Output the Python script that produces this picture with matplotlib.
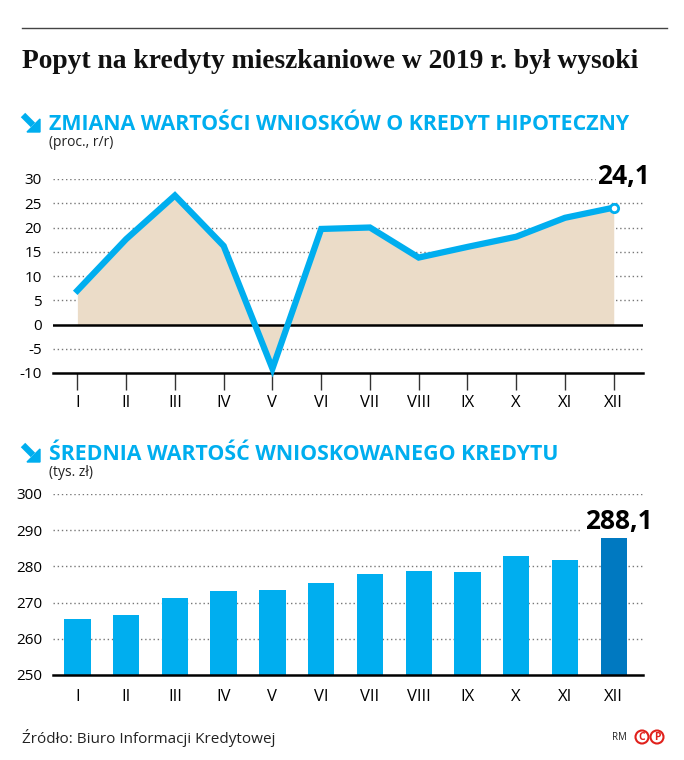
import matplotlib
matplotlib.use("Agg")
import matplotlib.pyplot as plt
from matplotlib.patches import Polygon, Circle
import numpy as np

plt.rcParams['font.family'] = ['Liberation Sans Narrow', 'Open Sans', 'DejaVu Sans']
plt.rcParams['axes.unicode_minus'] = False

months = ["I", "II", "III", "IV", "V", "VI", "VII", "VIII", "IX", "X", "XI", "XII"]
zmiana = [7.0, 17.6, 26.6, 16.2, -9.1, 19.7, 20.0, 13.8, 16.0, 18.1, 22.0, 24.1]
srednia = [265.6, 266.6, 271.3, 273.2, 273.4, 275.5, 277.8, 278.6, 278.4, 283.0, 281.8, 288.1]

CYAN = "#00AEEF"
DARK = "#0079C1"
TAN = "#EBDCC8"
W, H = 684, 760

fig = plt.figure(figsize=(W / 100, H / 100), dpi=100)

def px_axes(x0, y0, x1, y1):
    # pixel box (top-left origin) -> axes
    return fig.add_axes([x0 / W, 1 - y1 / H, (x1 - x0) / W, (y1 - y0) / H])

# overlay for texts / decorations in pixel coordinates
ov = fig.add_axes([0, 0, 1, 1], zorder=5)
ov.set_xlim(0, W)
ov.set_ylim(H, 0)
ov.axis("off")
ov.patch.set_alpha(0)

ov.plot([22, 667], [28, 28], color="#444444", lw=1)
ov.text(22, 62, "Popyt na kredyty mieszkaniowe w 2019 r. był wysoki",
        family=["Liberation Serif", "DejaVu Serif"], weight="bold", fontsize=19.8,
        va="center", ha="left", color="#111111")

def header(y, text, sub):
    # arrow icon: thick shaft + triangle head pointing down-right
    ov.plot([23, 33], [y - 9, y + 1], color=CYAN, lw=4.5, solid_capstyle="butt")
    ov.add_patch(Polygon([(40, y + 8), (40, y - 5), (27, y + 8)], closed=True, color=CYAN))
    ov.text(49, y, text, color=CYAN, weight="bold", fontsize=15.4, va="center", ha="left")
    ov.text(49, y + 19, sub, color="#222222", fontsize=10, va="center", ha="left")

header(124, "ZMIANA WARTOŚCI WNIOSKÓW O KREDYT HIPOTECZNY", "(proc., r/r)")
header(454, "ŚREDNIA WARTOŚĆ WNIOSKOWANEGO KREDYTU", "(tys. zł)")

x = np.arange(len(months))

# --- top chart
ax1 = px_axes(53, 179, 643, 373)
ax1.set_xlim(-0.5, 11.6)
ax1.set_ylim(-10, 30)
for v in range(-5, 31, 5):
    if v != 0:
        ax1.axhline(v, color="#777777", lw=1, ls=(0, (1, 2)), zorder=0)
ax1.fill_between(x, zmiana, 0, color=TAN, lw=0, zorder=1)
ax1.axhline(0, color="black", lw=1.8, zorder=2)
ax1.plot(x, zmiana, color=CYAN, lw=4.5, solid_joinstyle="miter", zorder=3, clip_on=False)
ax1.plot(x[-1], zmiana[-1], "o", ms=6, mfc="white", mec=CYAN, mew=2, zorder=4, clip_on=False)
ax1.text(x[-1] + 0.2, 30.5, "24,1", weight="bold", fontsize=19, ha="center", va="center",
         bbox=dict(facecolor="white", edgecolor="none", pad=1), zorder=5)
ax1.set_yticks(range(-10, 31, 5))
ax1.set_xticks(x)
ax1.set_xticklabels(months)

# --- bottom chart
ax2 = px_axes(53, 494, 643, 675)
ax2.set_xlim(-0.5, 11.6)
ax2.set_ylim(250, 300)
for v in range(260, 301, 10):
    ax2.axhline(v, color="#777777", lw=1, ls=(0, (1, 2)), zorder=0)
colors = [CYAN] * 11 + [DARK]
ax2.bar(x, np.array(srednia) - 250, bottom=250, width=0.54, color=colors, zorder=2)
ax2.text(x[-1] + 0.1, 292.3, "288,1", weight="bold", fontsize=19, ha="center", va="center",
         bbox=dict(facecolor="white", edgecolor="none", pad=2), zorder=3)
ax2.set_yticks(range(250, 301, 10))
ax2.set_xticks(x)
ax2.set_xticklabels(months)

for ax in (ax1, ax2):
    for s in ("top", "right", "left"):
        ax.spines[s].set_visible(False)
    ax.spines["bottom"].set_linewidth(1.8)
    ax.spines["bottom"].set_color("black")
    ax.tick_params(axis="y", length=0, pad=8, labelsize=11)
    ax.tick_params(axis="x", length=12, width=1, color="#333333", pad=4, labelsize=12)
    ax.patch.set_alpha(0)
ax2.tick_params(axis="x", length=0, pad=10)

ov.text(22, 738, "Źródło: Biuro Informacji Kredytowej", fontsize=11, va="center", ha="left",
        color="#222222")
ov.text(612, 738, "RM", fontsize=7, va="center", ha="left", color="#222222")
for cx, ch in ((642, "C"), (657, "P")):
    ov.add_patch(Circle((cx, 737), 6.5, fill=False, ec="#E0201B", lw=1.5))
    ov.text(cx, 737.5, ch, color="#E0201B", fontsize=7.5, weight="bold", ha="center", va="center")

fig.savefig("out.png", dpi=100)
